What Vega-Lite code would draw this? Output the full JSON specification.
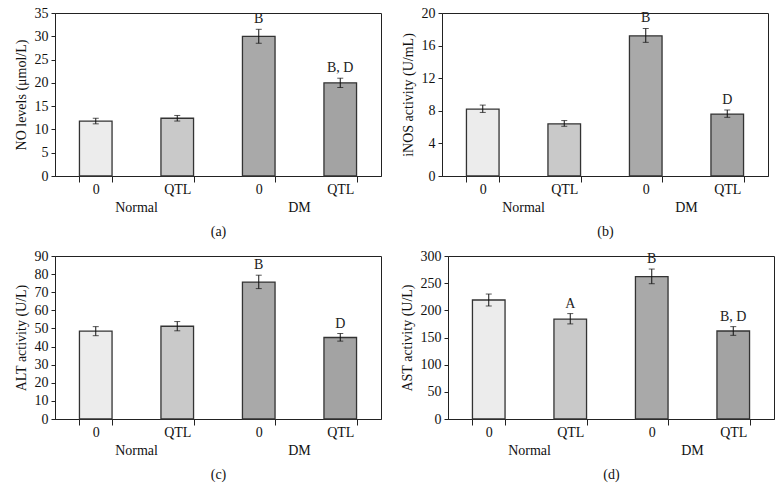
{
  "$schema": "https://vega.github.io/schema/vega-lite/v6.json",
  "padding": {"left": 13, "top": 5, "right": 5, "bottom": 5},
  "background": "white",
  "config": {
    "font": "Liberation Serif",
    "view": {"stroke": "#222", "strokeWidth": 1},
    "axis": {"labelFont": "Liberation Serif", "titleFont": "Liberation Serif", "labelFontSize": 14, "titleFontSize": 14, "titleFontWeight": "normal", "labelColor": "#111", "titleColor": "#111", "domainColor": "#222", "tickColor": "#222", "grid": false}
  },
  "datasets": {
    "a": [
      {"cond": "N0", "group": "Normal", "value": 11.8, "lo": 11.2, "hi": 12.4, "letter": ""},
      {"cond": "NQ", "group": "Normal", "value": 12.4, "lo": 11.8, "hi": 13.0, "letter": ""},
      {"cond": "D0", "group": "DM", "value": 30.0, "lo": 28.5, "hi": 31.5, "letter": "B"},
      {"cond": "DQ", "group": "DM", "value": 20.0, "lo": 19.0, "hi": 21.0, "letter": "B, D"}
    ],
    "b": [
      {"cond": "N0", "group": "Normal", "value": 8.2, "lo": 7.8, "hi": 8.7, "letter": ""},
      {"cond": "NQ", "group": "Normal", "value": 6.4, "lo": 6.1, "hi": 6.8, "letter": ""},
      {"cond": "D0", "group": "DM", "value": 17.2, "lo": 16.4, "hi": 18.1, "letter": "B"},
      {"cond": "DQ", "group": "DM", "value": 7.6, "lo": 7.2, "hi": 8.1, "letter": "D"}
    ],
    "c": [
      {"cond": "N0", "group": "Normal", "value": 48.5, "lo": 46.0, "hi": 51.0, "letter": ""},
      {"cond": "NQ", "group": "Normal", "value": 51.2, "lo": 48.7, "hi": 53.8, "letter": ""},
      {"cond": "D0", "group": "DM", "value": 75.6, "lo": 72.0, "hi": 79.4, "letter": "B"},
      {"cond": "DQ", "group": "DM", "value": 45.0, "lo": 43.0, "hi": 47.2, "letter": "D"}
    ],
    "d": [
      {"cond": "N0", "group": "Normal", "value": 219, "lo": 208, "hi": 230, "letter": ""},
      {"cond": "NQ", "group": "Normal", "value": 184, "lo": 175, "hi": 194, "letter": "A"},
      {"cond": "D0", "group": "DM", "value": 262, "lo": 249, "hi": 276, "letter": "B"},
      {"cond": "DQ", "group": "DM", "value": 162, "lo": 154, "hi": 170, "letter": "B, D"}
    ]
  },
  "spacing": 9,
  "vconcat": [
    {
      "spacing": 18,
      "hconcat": [
        {
          "width": 326, "height": 163,
          "data": {"name": "a"},
          "layer": [
            {"layer": [
              {"mark": {"type": "bar", "stroke": "#333", "strokeWidth": 1.3},
               "encoding": {
                 "x": {"field": "cond", "type": "nominal", "sort": null, "scale": {"paddingInner": 0.6, "paddingOuter": 0.3},
                       "axis": {"title": null, "labelAngle": 0, "tickBand": "extent", "tickSize": 6, "labelPadding": 0, "labelExpr": "datum.label == 'N0' || datum.label == 'D0' ? '0' : datum.label == 'NQ' || datum.label == 'DQ' ? 'QTL' : ''"}},
                 "y": {"field": "value", "type": "quantitative", "scale": {"domain": [0, 35], "nice": false},
                       "axis": {"title": "NO levels (μmol/L)", "values": [0, 5, 10, 15, 20, 25, 30, 35], "tickSize": 4, "labelPadding": 3, "titlePadding": 6, "labelOverlap": false}},
                 "fill": {"field": "cond", "type": "nominal", "scale": {"domain": ["N0", "NQ", "D0", "DQ"], "range": ["#ececec", "#c9c9c9", "#a9a9a9", "#a3a3a3"]}, "legend": null}
               }},
              {"mark": {"type": "errorbar", "ticks": {"size": 6, "color": "#111"}, "rule": {"color": "#111"}},
               "encoding": {"x": {"field": "cond", "type": "nominal", "sort": null}, "y": {"field": "lo", "type": "quantitative", "axis": {"title": "NO levels (μmol/L)", "values": [0, 5, 10, 15, 20, 25, 30, 35], "tickSize": 4, "labelPadding": 3, "titlePadding": 6, "labelOverlap": false}}, "y2": {"field": "hi"}}},
              {"mark": {"type": "text", "baseline": "bottom", "dy": -3, "fontSize": 14, "color": "#222"},
               "encoding": {"x": {"field": "cond", "type": "nominal", "sort": null}, "y": {"field": "hi", "type": "quantitative", "axis": {"title": "NO levels (μmol/L)", "values": [0, 5, 10, 15, 20, 25, 30, 35], "tickSize": 4, "labelPadding": 3, "titlePadding": 6, "labelOverlap": false}}, "text": {"field": "letter"}}}
            ]},
            {"mark": {"type": "bar", "opacity": 0},
             "encoding": {"x": {"field": "group", "type": "nominal", "sort": null, "scale": {"paddingInner": 0, "paddingOuter": 0},
               "axis": {"orient": "bottom", "offset": 22, "domain": false, "ticks": false, "labelPadding": 2, "labelAngle": 0, "title": "(a)", "titlePadding": 10}}}}
          ],
          "resolve": {"scale": {"x": "independent"}}
        },
        {
          "width": 326, "height": 163,
          "data": {"name": "b"},
          "layer": [
            {"layer": [
              {"mark": {"type": "bar", "stroke": "#333", "strokeWidth": 1.3},
               "encoding": {
                 "x": {"field": "cond", "type": "nominal", "sort": null, "scale": {"paddingInner": 0.6, "paddingOuter": 0.3},
                       "axis": {"title": null, "labelAngle": 0, "tickBand": "extent", "tickSize": 6, "labelPadding": 0, "labelExpr": "datum.label == 'N0' || datum.label == 'D0' ? '0' : datum.label == 'NQ' || datum.label == 'DQ' ? 'QTL' : ''"}},
                 "y": {"field": "value", "type": "quantitative", "scale": {"domain": [0, 20], "nice": false},
                       "axis": {"title": "iNOS activity (U/mL)", "values": [0, 4, 8, 12, 16, 20], "tickSize": 4, "labelPadding": 3, "titlePadding": 6, "labelOverlap": false}},
                 "fill": {"field": "cond", "type": "nominal", "scale": {"domain": ["N0", "NQ", "D0", "DQ"], "range": ["#ececec", "#c9c9c9", "#a9a9a9", "#a3a3a3"]}, "legend": null}
               }},
              {"mark": {"type": "errorbar", "ticks": {"size": 6, "color": "#111"}, "rule": {"color": "#111"}},
               "encoding": {"x": {"field": "cond", "type": "nominal", "sort": null}, "y": {"field": "lo", "type": "quantitative", "axis": {"title": "iNOS activity (U/mL)", "values": [0, 4, 8, 12, 16, 20], "tickSize": 4, "labelPadding": 3, "titlePadding": 6, "labelOverlap": false}}, "y2": {"field": "hi"}}},
              {"mark": {"type": "text", "baseline": "bottom", "dy": -3, "fontSize": 14, "color": "#222"},
               "encoding": {"x": {"field": "cond", "type": "nominal", "sort": null}, "y": {"field": "hi", "type": "quantitative", "axis": {"title": "iNOS activity (U/mL)", "values": [0, 4, 8, 12, 16, 20], "tickSize": 4, "labelPadding": 3, "titlePadding": 6, "labelOverlap": false}}, "text": {"field": "letter"}}}
            ]},
            {"mark": {"type": "bar", "opacity": 0},
             "encoding": {"x": {"field": "group", "type": "nominal", "sort": null, "scale": {"paddingInner": 0, "paddingOuter": 0},
               "axis": {"orient": "bottom", "offset": 22, "domain": false, "ticks": false, "labelPadding": 2, "labelAngle": 0, "title": "(b)", "titlePadding": 10}}}}
          ],
          "resolve": {"scale": {"x": "independent"}}
        }
      ]
    },
    {
      "spacing": 17,
      "hconcat": [
        {
          "width": 326, "height": 163,
          "data": {"name": "c"},
          "layer": [
            {"layer": [
              {"mark": {"type": "bar", "stroke": "#333", "strokeWidth": 1.3},
               "encoding": {
                 "x": {"field": "cond", "type": "nominal", "sort": null, "scale": {"paddingInner": 0.6, "paddingOuter": 0.3},
                       "axis": {"title": null, "labelAngle": 0, "tickBand": "extent", "tickSize": 6, "labelPadding": 0, "labelExpr": "datum.label == 'N0' || datum.label == 'D0' ? '0' : datum.label == 'NQ' || datum.label == 'DQ' ? 'QTL' : ''"}},
                 "y": {"field": "value", "type": "quantitative", "scale": {"domain": [0, 90], "nice": false},
                       "axis": {"title": "ALT activity (U/L)", "values": [0, 10, 20, 30, 40, 50, 60, 70, 80, 90], "tickSize": 4, "labelPadding": 3, "titlePadding": 6, "labelOverlap": false}},
                 "fill": {"field": "cond", "type": "nominal", "scale": {"domain": ["N0", "NQ", "D0", "DQ"], "range": ["#ececec", "#c9c9c9", "#a9a9a9", "#a3a3a3"]}, "legend": null}
               }},
              {"mark": {"type": "errorbar", "ticks": {"size": 6, "color": "#111"}, "rule": {"color": "#111"}},
               "encoding": {"x": {"field": "cond", "type": "nominal", "sort": null}, "y": {"field": "lo", "type": "quantitative", "axis": {"title": "ALT activity (U/L)", "values": [0, 10, 20, 30, 40, 50, 60, 70, 80, 90], "tickSize": 4, "labelPadding": 3, "titlePadding": 6, "labelOverlap": false}}, "y2": {"field": "hi"}}},
              {"mark": {"type": "text", "baseline": "bottom", "dy": -3, "fontSize": 14, "color": "#222"},
               "encoding": {"x": {"field": "cond", "type": "nominal", "sort": null}, "y": {"field": "hi", "type": "quantitative", "axis": {"title": "ALT activity (U/L)", "values": [0, 10, 20, 30, 40, 50, 60, 70, 80, 90], "tickSize": 4, "labelPadding": 3, "titlePadding": 6, "labelOverlap": false}}, "text": {"field": "letter"}}}
            ]},
            {"mark": {"type": "bar", "opacity": 0},
             "encoding": {"x": {"field": "group", "type": "nominal", "sort": null, "scale": {"paddingInner": 0, "paddingOuter": 0},
               "axis": {"orient": "bottom", "offset": 22, "domain": false, "ticks": false, "labelPadding": 2, "labelAngle": 0, "title": "(c)", "titlePadding": 10}}}}
          ],
          "resolve": {"scale": {"x": "independent"}}
        },
        {
          "width": 326, "height": 163,
          "data": {"name": "d"},
          "layer": [
            {"layer": [
              {"mark": {"type": "bar", "stroke": "#333", "strokeWidth": 1.3},
               "encoding": {
                 "x": {"field": "cond", "type": "nominal", "sort": null, "scale": {"paddingInner": 0.6, "paddingOuter": 0.3},
                       "axis": {"title": null, "labelAngle": 0, "tickBand": "extent", "tickSize": 6, "labelPadding": 0, "labelExpr": "datum.label == 'N0' || datum.label == 'D0' ? '0' : datum.label == 'NQ' || datum.label == 'DQ' ? 'QTL' : ''"}},
                 "y": {"field": "value", "type": "quantitative", "scale": {"domain": [0, 300], "nice": false},
                       "axis": {"title": "AST activity (U/L)", "values": [0, 50, 100, 150, 200, 250, 300], "tickSize": 4, "labelPadding": 3, "titlePadding": 6, "labelOverlap": false}},
                 "fill": {"field": "cond", "type": "nominal", "scale": {"domain": ["N0", "NQ", "D0", "DQ"], "range": ["#ececec", "#c9c9c9", "#a9a9a9", "#a3a3a3"]}, "legend": null}
               }},
              {"mark": {"type": "errorbar", "ticks": {"size": 6, "color": "#111"}, "rule": {"color": "#111"}},
               "encoding": {"x": {"field": "cond", "type": "nominal", "sort": null}, "y": {"field": "lo", "type": "quantitative", "axis": {"title": "AST activity (U/L)", "values": [0, 50, 100, 150, 200, 250, 300], "tickSize": 4, "labelPadding": 3, "titlePadding": 6, "labelOverlap": false}}, "y2": {"field": "hi"}}},
              {"mark": {"type": "text", "baseline": "bottom", "dy": -3, "fontSize": 14, "color": "#222"},
               "encoding": {"x": {"field": "cond", "type": "nominal", "sort": null}, "y": {"field": "hi", "type": "quantitative", "axis": {"title": "AST activity (U/L)", "values": [0, 50, 100, 150, 200, 250, 300], "tickSize": 4, "labelPadding": 3, "titlePadding": 6, "labelOverlap": false}}, "text": {"field": "letter"}}}
            ]},
            {"mark": {"type": "bar", "opacity": 0},
             "encoding": {"x": {"field": "group", "type": "nominal", "sort": null, "scale": {"paddingInner": 0, "paddingOuter": 0},
               "axis": {"orient": "bottom", "offset": 22, "domain": false, "ticks": false, "labelPadding": 2, "labelAngle": 0, "title": "(d)", "titlePadding": 10}}}}
          ],
          "resolve": {"scale": {"x": "independent"}}
        }
      ]
    }
  ]
}
